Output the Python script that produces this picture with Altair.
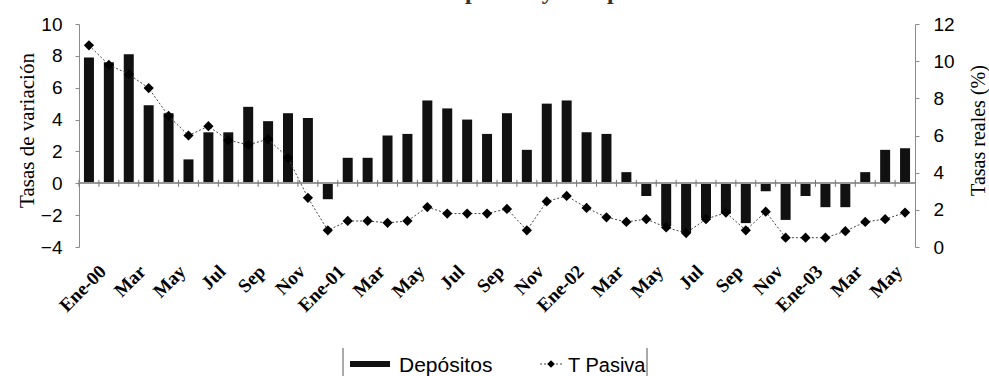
import altair as alt
import pandas as pd

# Monthly periods, Jan 2000 – Jun 2003
periods = [
    "Ene-00", "Feb-00", "Mar-00", "Abr-00", "May-00", "Jun-00", "Jul-00", "Ago-00", "Sep-00", "Oct-00", "Nov-00", "Dic-00",
    "Ene-01", "Feb-01", "Mar-01", "Abr-01", "May-01", "Jun-01", "Jul-01", "Ago-01", "Sep-01", "Oct-01", "Nov-01", "Dic-01",
    "Ene-02", "Feb-02", "Mar-02", "Abr-02", "May-02", "Jun-02", "Jul-02", "Ago-02", "Sep-02", "Oct-02", "Nov-02", "Dic-02",
    "Ene-03", "Feb-03", "Mar-03", "Abr-03", "May-03", "Jun-03",
]

# Real growth rate of deposits (left axis)
depositos = [
    7.9, 7.6, 8.1, 4.9, 4.4, 1.5, 3.2, 3.2, 4.8, 3.9, 4.4, 4.1,
    -1.0, 1.6, 1.6, 3.0, 3.1, 5.2, 4.7, 4.0, 3.1, 4.4, 2.1, 5.0,
    5.2, 3.2, 3.1, 0.7, -0.8, -2.7, -3.1, -2.2, -1.9, -2.5, -0.5, -2.3,
    -0.8, -1.5, -1.5, 0.7, 2.1, 2.2,
]

# Real deposit interest rate (right axis, %)
t_pasiva = [
    10.85, 9.8, 9.3, 8.55, 7.05, 6.0, 6.5, 5.75, 5.5, 5.8, 4.8, 2.65,
    0.9, 1.4, 1.4, 1.3, 1.4, 2.15, 1.8, 1.8, 1.8, 2.05, 0.9, 2.45,
    2.75, 2.1, 1.6, 1.35, 1.5, 1.05, 0.75, 1.5, 1.85, 0.9, 1.9, 0.5,
    0.5, 0.5, 0.85, 1.35, 1.5, 1.85,
]

left_ticks = [-4, -2, 0, 2, 4, 6, 8, 10]
right_ticks = [0, 2, 4, 6, 8, 10, 12]
label_periods = periods[::2]
legend_labels = ["Depósitos", "T Pasiva"]
title_text = "Tasas de variación real de los depósitos y tasa pasiva"

df = pd.DataFrame({"periodo": periods, "dep": depositos, "tp": t_pasiva})

SANS = "Liberation Sans"
SERIF = "Liberation Serif"
AXIS_GREY = "#8a8a8a"

x_scale = alt.Scale(domain=periods, paddingInner=0, paddingOuter=0)
left_scale = alt.Scale(domain=[-4, 10], nice=False, zero=False)
right_scale = alt.Scale(domain=[0, 12], nice=False, zero=False)

# Shared axis definitions (reused by every layer on the same scale)
x_axis = alt.Axis(
    values=label_periods,
    labelExpr="split(datum.value, '-')[0] == 'Ene' ? datum.value : split(datum.value, '-')[0]",
    labelAngle=-45,
    labelAlign="right",
    labelBaseline="middle",
    labelPadding=21,
    labelOffset=14,
    labelFont=SERIF,
    labelFontSize=19,
    labelFontWeight="bold",
    labelColor="black",
    labelOverlap=False,
    domain=False,
    ticks=False,
    title=None,
)
left_axis = alt.Axis(
    orient="left",
    values=left_ticks,
    grid=False,
    domainColor=AXIS_GREY,
    tickColor=AXIS_GREY,
    tickSize=4,
    labelPadding=13,
    labelFont=SANS,
    labelFontSize=19,
    labelColor="black",
    title="Tasas de variación",
    titleFont=SERIF,
    titleFontSize=21,
    titleFontWeight="normal",
    titleColor="black",
    titleAngle=270,
    titleX=-52,
    titleY=106,
    titleAlign="center",
    titleBaseline="middle",
)
right_axis = alt.Axis(
    orient="right",
    values=right_ticks,
    grid=False,
    domainColor=AXIS_GREY,
    tickColor=AXIS_GREY,
    tickSize=4,
    labelPadding=14,
    labelFont=SANS,
    labelFontSize=19,
    labelColor="black",
    title="Tasas reales (%)",
    titleFont=SERIF,
    titleFontSize=20,
    titleFontWeight="normal",
    titleColor="black",
    titleAngle=270,
    titleX=63,
    titleY=106,
    titleAlign="center",
    titleBaseline="middle",
)


def x_enc(**kw):
    return alt.X("periodo:N", scale=x_scale, sort=periods, axis=x_axis, **kw)


base = alt.Chart(df)

bars = base.mark_bar(color="#111111", size=10).encode(
    x=x_enc(),
    y=alt.Y("dep:Q", scale=left_scale, axis=left_axis),
)

# Zero line with category separators
zero_rule = base.mark_rule(color="#9a9a9a", strokeWidth=1).encode(
    y=alt.YDatum(0, scale=left_scale, axis=left_axis),
)
sep_ticks = base.mark_rule(color="#777777", strokeWidth=1).encode(
    x=x_enc(bandPosition=0),
    y=alt.YDatum(0.22, scale=left_scale, axis=left_axis),
    y2=alt.Y2Datum(-0.22),
)

title_layer = alt.Chart(pd.DataFrame({"t": [title_text]})).mark_text(
    font=SERIF, fontSize=24, fontWeight="bold", align="left", baseline="alphabetic", color="#333"
).encode(text="t:N", x=alt.value(58), y=alt.value(-25.5))

# Legend drawn beneath the plot
leg_df = pd.DataFrame({"label": legend_labels})
leg_left = alt.Chart(leg_df.iloc[[0]]).mark_rule(color="#555", strokeWidth=1).encode(
    x=alt.value(264), y=alt.value(324), y2=alt.value(360)
)
leg_right = alt.Chart(leg_df.iloc[[1]]).mark_rule(color="#555", strokeWidth=1).encode(
    x=alt.value(568), y=alt.value(324), y2=alt.value(360)
)
leg_bar = alt.Chart(leg_df.iloc[[0]]).mark_rule(color="#111", strokeWidth=6).encode(
    x=alt.value(271), x2=alt.value(311), y=alt.value(340)
)
leg_line = alt.Chart(leg_df.iloc[[1]]).mark_rule(color="#444", strokeWidth=1, strokeDash=[2, 2]).encode(
    x=alt.value(461), x2=alt.value(483), y=alt.value(340)
)
leg_pt = alt.Chart(leg_df.iloc[[1]]).mark_point(shape="diamond", filled=True, size=60, color="black", opacity=1).encode(
    x=alt.value(472), y=alt.value(340)
)
leg_text1 = alt.Chart(leg_df.iloc[[0]]).mark_text(
    font=SANS, fontSize=21, align="left", baseline="alphabetic", color="black"
).encode(text="label:N", x=alt.value(320), y=alt.value(348))
leg_text2 = alt.Chart(leg_df.iloc[[1]]).mark_text(
    font=SANS, fontSize=20, align="left", baseline="alphabetic", color="black"
).encode(text="label:N", x=alt.value(489), y=alt.value(348))

left_group = alt.layer(
    bars, zero_rule, sep_ticks, title_layer,
    leg_left, leg_right, leg_bar, leg_line, leg_pt, leg_text1, leg_text2,
)

line = base.mark_line(color="#444444", strokeWidth=1, strokeDash=[2, 2]).encode(
    x=x_enc(),
    y=alt.Y("tp:Q", scale=right_scale, axis=right_axis),
)
points = base.mark_point(shape="diamond", filled=True, size=105, color="black", opacity=1).encode(
    x=x_enc(),
    y=alt.Y("tp:Q", scale=right_scale, axis=right_axis),
)
right_group = alt.layer(line, points)

chart = (
    alt.layer(left_group, right_group)
    .resolve_scale(y="independent")
    .properties(
        width=836,
        height=223,
        autosize=alt.AutoSizeParams(type="none"),
        padding={"left": 79, "top": 24, "right": 74, "bottom": 129},
        background="white",
    )
    .configure_view(stroke=None)
)

chart.save("out.html", embed_options={"renderer": "svg", "actions": False})
